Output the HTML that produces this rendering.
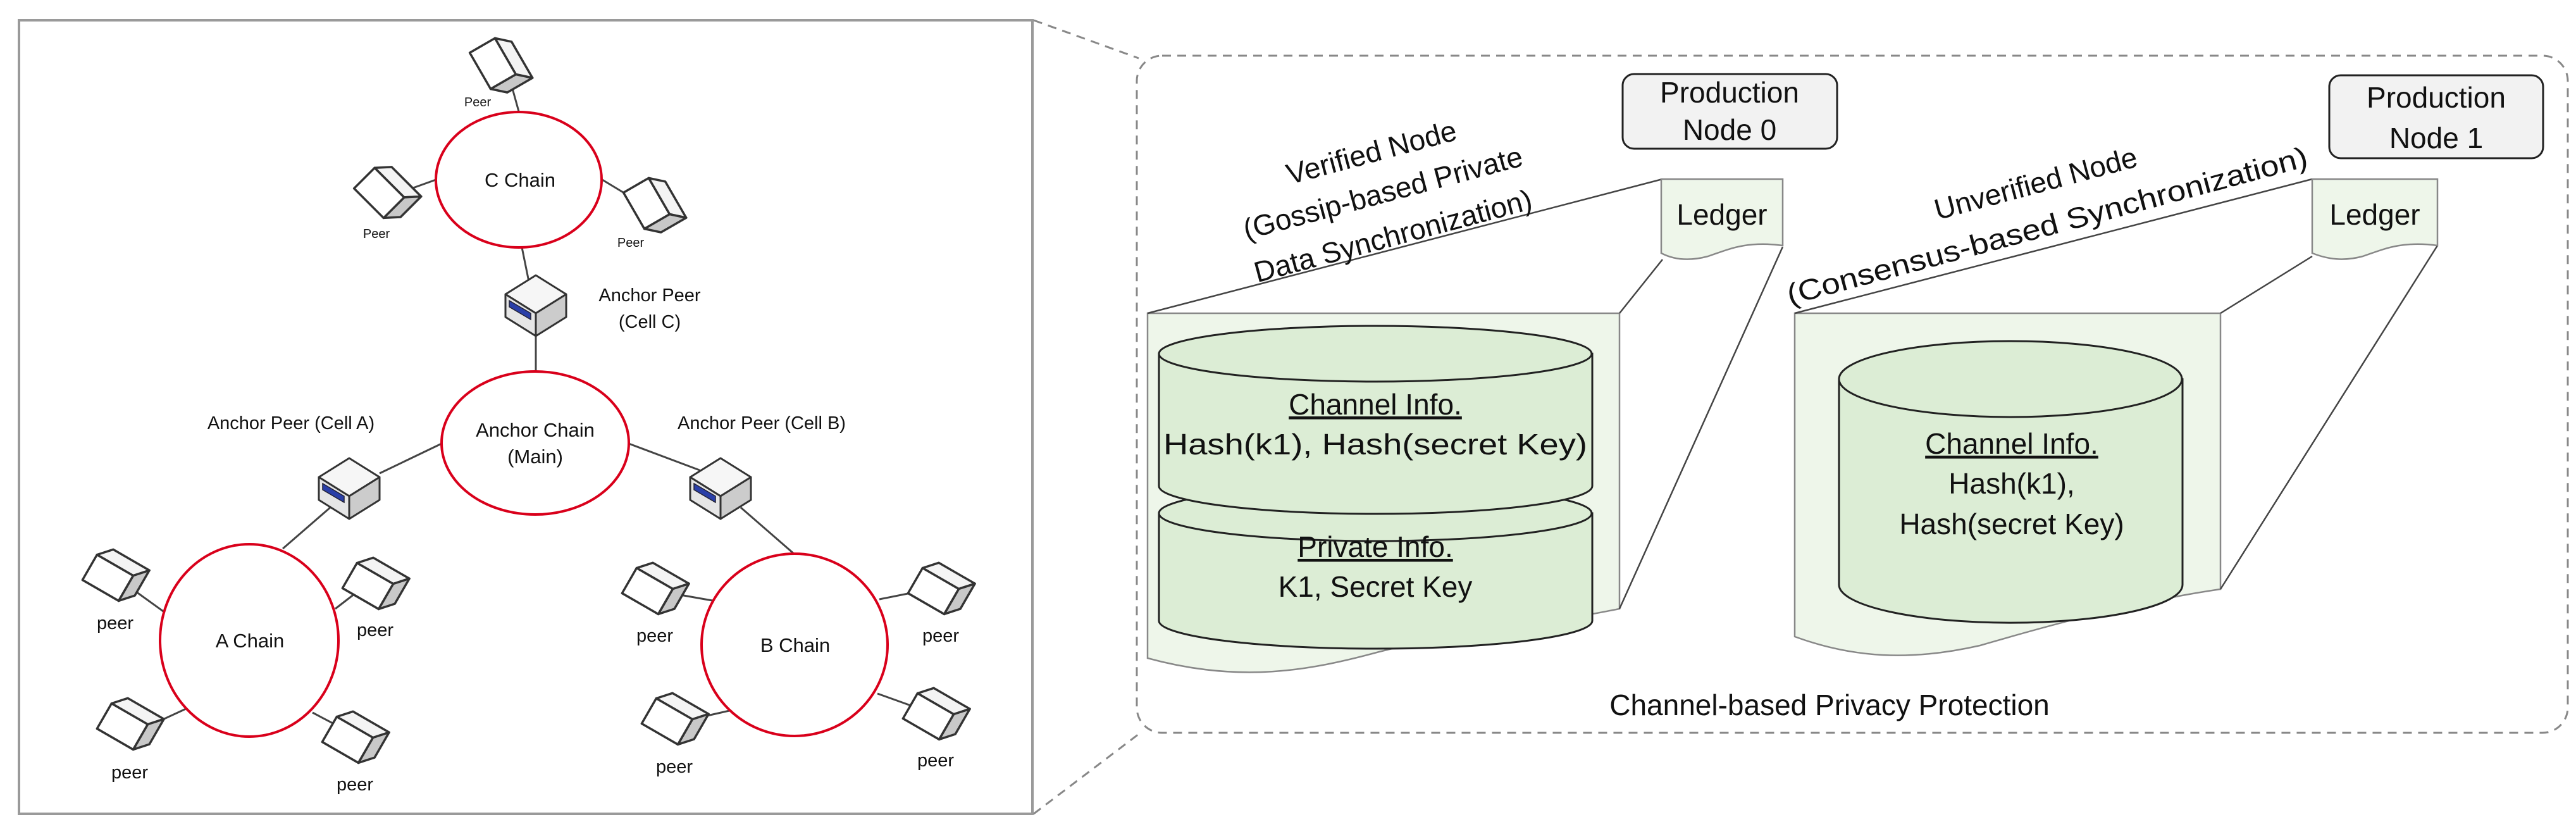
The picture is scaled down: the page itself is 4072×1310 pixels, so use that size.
<!DOCTYPE html>
<html><head><meta charset="utf-8"><style>
html,body{margin:0;padding:0;background:#fff;}
svg{display:block;}
text{font-family:"Liberation Sans",sans-serif;fill:#111;}
</style></head><body>
<svg width="4072" height="1310" viewBox="0 0 4072 1310" xmlns="http://www.w3.org/2000/svg">
<defs>
<g id="pc">
  <polygon points="-40,-12 -22,-32 44,-32 26,-12" fill="#f4f4f4" stroke="#333" stroke-width="3.5" stroke-linejoin="round"/>
  <polygon points="26,-12 44,-32 44,14 26,34" fill="#c8c8c8" stroke="#333" stroke-width="3.5" stroke-linejoin="round"/>
  <polygon points="-40,-12 26,-12 26,34 -40,34" fill="#fff" stroke="#333" stroke-width="3.5" stroke-linejoin="round"/>
</g>
<g id="ap">
  <polygon points="-48,-10 0,-40 48,-10 0,20" fill="#f6f6f6" stroke="#333" stroke-width="3" stroke-linejoin="round"/>
  <polygon points="-48,-10 0,20 0,56 -48,26" fill="#e6e6e6" stroke="#333" stroke-width="3" stroke-linejoin="round"/>
  <polygon points="0,20 48,-10 48,26 0,56" fill="#cccccc" stroke="#333" stroke-width="3" stroke-linejoin="round"/>
  <polygon points="-42,0 -8,20 -8,30 -42,10" fill="#2a3fa8" stroke="#223" stroke-width="1.5"/>
</g>
</defs>

<rect x="30" y="32" width="1602" height="1254" fill="#fff" stroke="#9a9a9a" stroke-width="4"/>

<g stroke="#444" stroke-width="3">
<line x1="820" y1="176" x2="810" y2="140"/>
<line x1="689" y1="284" x2="650" y2="298"/>
<line x1="952" y1="284" x2="995" y2="310"/>
<line x1="825" y1="391" x2="836" y2="445"/>
<line x1="847" y1="521" x2="847" y2="588"/>
<line x1="698" y1="701" x2="600" y2="748"/>
<line x1="522" y1="802" x2="447" y2="867"/>
<line x1="994" y1="701" x2="1106" y2="743"/>
<line x1="1171" y1="802" x2="1255" y2="875"/>
<line x1="258" y1="966" x2="215" y2="935"/>
<line x1="530" y1="962" x2="565" y2="935"/>
<line x1="294" y1="1120" x2="240" y2="1145"/>
<line x1="494" y1="1126" x2="530" y2="1145"/>
<line x1="1126" y1="949" x2="1075" y2="940"/>
<line x1="1390" y1="947" x2="1450" y2="935"/>
<line x1="1153" y1="1123" x2="1100" y2="1135"/>
<line x1="1387" y1="1096" x2="1440" y2="1115"/>
</g>

<g fill="#fff" stroke="#d9001b" stroke-width="4">
<ellipse cx="820" cy="284" rx="131" ry="107"/>
<ellipse cx="846" cy="700" rx="148" ry="113"/>
<ellipse cx="394" cy="1012" rx="141" ry="152"/>
<ellipse cx="1256" cy="1019" rx="147" ry="144"/>
</g>
<g font-size="31" text-anchor="middle">
<text x="822" y="295">C Chain</text>
<text x="846" y="690">Anchor Chain</text>
<text x="846" y="732">(Main)</text>
<text x="395" y="1023">A Chain</text>
<text x="1257" y="1030">B Chain</text>
</g>

<use href="#pc" transform="translate(792,101) rotate(60)"/>
<use href="#pc" transform="translate(612,302) rotate(45)"/>
<use href="#pc" transform="translate(1035,322) rotate(60)"/>
<use href="#pc" transform="translate(182,907) rotate(30)"/>
<use href="#pc" transform="translate(593,920) rotate(30)"/>
<use href="#pc" transform="translate(205,1142) rotate(30)"/>
<use href="#pc" transform="translate(561,1163) rotate(30)"/>
<use href="#pc" transform="translate(1035,928) rotate(30)"/>
<use href="#pc" transform="translate(1487,928) rotate(30)"/>
<use href="#pc" transform="translate(1066,1134) rotate(30)"/>
<use href="#pc" transform="translate(1479,1126) rotate(30)"/>
<use href="#ap" transform="translate(847,475)"/>
<use href="#ap" transform="translate(552,764)"/>
<use href="#ap" transform="translate(1139,764)"/>

<g font-size="20" text-anchor="middle">
<text x="755" y="168">Peer</text>
<text x="595" y="376">Peer</text>
<text x="997" y="390">Peer</text>
</g>
<g font-size="29" text-anchor="middle">
<text x="1027" y="476">Anchor Peer</text>
<text x="1027" y="518">(Cell C)</text>
<text x="460" y="678">Anchor Peer (Cell A)</text>
<text x="1204" y="678">Anchor Peer (Cell B)</text>
<text x="182" y="994">peer</text>
<text x="593" y="1005">peer</text>
<text x="205" y="1230">peer</text>
<text x="561" y="1249">peer</text>
<text x="1035" y="1014">peer</text>
<text x="1487" y="1014">peer</text>
<text x="1066" y="1221">peer</text>
<text x="1479" y="1211">peer</text>
</g>

<g stroke="#888" stroke-width="3" stroke-dasharray="14,10" fill="none">
<line x1="1634" y1="32" x2="1800" y2="92"/>
<line x1="1634" y1="1286" x2="1800" y2="1160"/>
<rect x="1797" y="88" width="2262" height="1070" rx="40" ry="40"/>
</g>

<path d="M1814,495 L2560,495 L2560,962 C2420,990 2300,1000 2180,1030 C2070,1060 1960,1080 1814,1040 Z" fill="#eef6ea" stroke="#888" stroke-width="2.5"/>
<g stroke="#444" stroke-width="2.5">
<line x1="1814" y1="495" x2="2628" y2="283"/>
<line x1="2560" y1="495" x2="2628" y2="410"/>
<line x1="2560" y1="962" x2="2818" y2="390"/>
</g>
<path d="M1832,811 L1832,981 A342,44 0 0 0 2517,981 L2517,811 Z" fill="#dcedd5" stroke="#222" stroke-width="3"/>
<ellipse cx="2174" cy="811" rx="342" ry="44" fill="#dcedd5" stroke="#222" stroke-width="3"/>
<path d="M1832,559 L1832,768 A342,44 0 0 0 2517,768 L2517,559 Z" fill="#dcedd5" stroke="#222" stroke-width="3"/>
<ellipse cx="2174" cy="559" rx="342" ry="44" fill="#dcedd5" stroke="#222" stroke-width="3"/>
<g font-size="46" text-anchor="middle">
<text x="2174" y="655" text-decoration="underline">Channel Info.</text>
<text x="2174" y="718" textLength="670" lengthAdjust="spacingAndGlyphs">Hash(k1), Hash(secret Key)</text>
<text x="2174" y="880" text-decoration="underline">Private Info.</text>
<text x="2174" y="943">K1, Secret Key</text>
</g>

<path d="M2837,495 L3510,495 L3510,931 C3380,950 3250,985 3130,1020 C3020,1045 2930,1040 2837,1006 Z" fill="#eef6ea" stroke="#888" stroke-width="2.5"/>
<g stroke="#444" stroke-width="2.5">
<line x1="2837" y1="495" x2="3655" y2="283"/>
<line x1="3510" y1="495" x2="3655" y2="405"/>
<line x1="3510" y1="931" x2="3853" y2="388"/>
</g>
<path d="M2907,599 L2907,924 A271,60 0 0 0 3450,924 L3450,599 Z" fill="#dcedd5" stroke="#222" stroke-width="3"/>
<ellipse cx="3178" cy="599" rx="271" ry="60" fill="#dcedd5" stroke="#222" stroke-width="3"/>
<g font-size="46" text-anchor="middle">
<text x="3180" y="717" text-decoration="underline">Channel Info.</text>
<text x="3180" y="780">Hash(k1),</text>
<text x="3180" y="844">Hash(secret Key)</text>
</g>

<path d="M2626,283 L2818,283 L2818,388 C2760,380 2730,395 2700,405 C2670,413 2645,410 2626,400 Z" fill="#eef6ea" stroke="#888" stroke-width="2.5"/>
<path d="M3655,283 L3853,283 L3853,388 C3795,380 3765,395 3735,405 C3705,413 3680,410 3655,400 Z" fill="#eef6ea" stroke="#888" stroke-width="2.5"/>
<g font-size="46" text-anchor="middle">
<text x="2722" y="355">Ledger</text>
<text x="3754" y="355">Ledger</text>
</g>

<rect x="2565" y="117" width="339" height="118" rx="18" fill="#f2f2f2" stroke="#222" stroke-width="3"/>
<rect x="3682" y="119" width="338" height="131" rx="18" fill="#f2f2f2" stroke="#222" stroke-width="3"/>
<g font-size="46" text-anchor="middle">
<text x="2734" y="162">Production</text>
<text x="2734" y="221">Node 0</text>
<text x="3851" y="170">Production</text>
<text x="3851" y="234">Node 1</text>
</g>

<g font-size="46" text-anchor="middle">
<text transform="translate(2172,256) rotate(-15)">Verified Node</text>
<text transform="translate(2190,320) rotate(-15)">(Gossip-based Private</text>
<text transform="translate(2206,388) rotate(-15)">Data Synchronization)</text>
<text transform="translate(3222,305) rotate(-15)">Unverified Node</text>
<text transform="translate(3240,372) rotate(-15)" textLength="850" lengthAdjust="spacingAndGlyphs">(Consensus-based Synchronization)</text>
</g>

<text x="2892" y="1130" font-size="46" text-anchor="middle">Channel-based Privacy Protection</text>
</svg>
</body></html>
